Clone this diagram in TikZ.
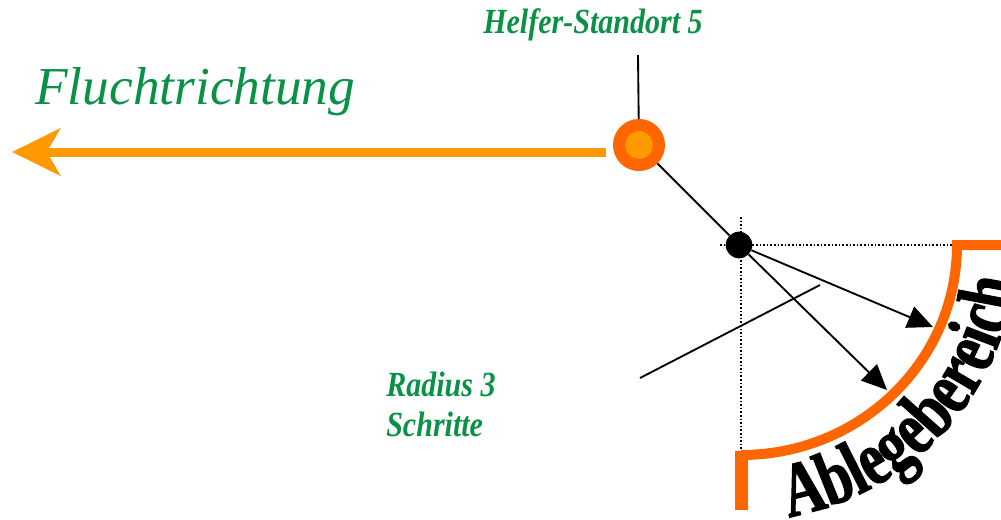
\documentclass[tikz,border=0pt]{standalone}
\usepackage{fontspec}
\setmainfont{Liberation Serif}
\newfontfamily\ablfont[FakeStretch=0.74, FakeBold=1.5]{Liberation Serif}
\newfontfamily\lblfont[FakeStretch=0.85]{Liberation Serif}
\usetikzlibrary{arrows.meta,decorations.text}
\definecolor{lblgreen}{RGB}{10,145,70}
\definecolor{flucht}{RGB}{255,153,0}
\definecolor{ring}{RGB}{255,102,0}
\tikzset{
  thinline/.style={line width=1.4pt, black},
  dotline/.style={line width=0.9pt, black, dash pattern=on 1.2pt off 1.5pt},
  greenlbl/.style={text=lblgreen, font=\lblfont\bfseries\itshape\fontsize{26.5}{32}\selectfont, inner sep=0pt},
  fluchtarrow/.style={line width=6.75pt, flucht, -{Stealth[length=36pt, width=35pt, inset=10pt]}},
  ablege/.style={line width=7.5pt, ring, line join=miter},
  radarrow/.style={thinline, -{Triangle[length=19pt, width=17pt]}},
}
\begin{document}
\begin{tikzpicture}[x=0.75pt, y=-0.75pt]
\useasboundingbox (0,0) rectangle (1001,519);
\clip (0,0) rectangle (1001,519);

% helper location
\node[circle, draw=ring, fill=flucht, line width=9pt, minimum size=30pt, inner sep=0pt] (hs) at (639,145) {};
\coordinate (hstop) at (638,55);
\draw[thinline] (hstop) -- (hs);
\node[greenlbl, anchor=south] (hslbl) at (593,41) {Helfer-Standort 5};

% flight direction
\coordinate (astart) at (606,152);
\coordinate (atip) at (12,152);
\draw[fluchtarrow] (astart) -- (atip);
\node[anchor=base west, inner sep=0pt, text=lblgreen, font=\itshape\fontsize{40}{42}\selectfont] (flucht) at (35,104) {Fluchtrichtung};

% drop point
\node[circle, fill=black, minimum size=20pt, inner sep=0pt] (d) at (739,245) {};
\draw[thinline] (hs) -- (d);

% dotted axes
\draw[dotline] (720,245) -- (957,245);
\draw[dotline] (741,217) -- (741,455);

% radius arrows
\coordinate (a1) at (933,327);
\coordinate (a2) at (887,390);
\draw[radarrow] (d) -- (a1);
\draw[radarrow] (d) -- (a2);

% crossing line
\coordinate (c1) at (640,378);
\coordinate (c2) at (820,285);
\draw[thinline] (c1) -- (c2);

% drop zone
\draw[ablege] (1001,245) -- (957,245) arc[start angle=0, end angle=90, x radius=216, y radius=210];
\draw[ring, line width=9.75pt] (741,451) -- (741,510);

\path[decorate, decoration={text along path, text align=left,
  text format delimiters={|}{|},
  text={|\ablfont\bfseries\fontsize{58}{60}\selectfont|Ablegebereich}}]
  (741,245) ++(80:276) arc[start angle=80, end angle=0, radius=276];

\node[greenlbl, anchor=north west, align=left] (rad) at (386,372) {Radius 3\\[-2pt]Schritte};
\end{tikzpicture}
\end{document}
